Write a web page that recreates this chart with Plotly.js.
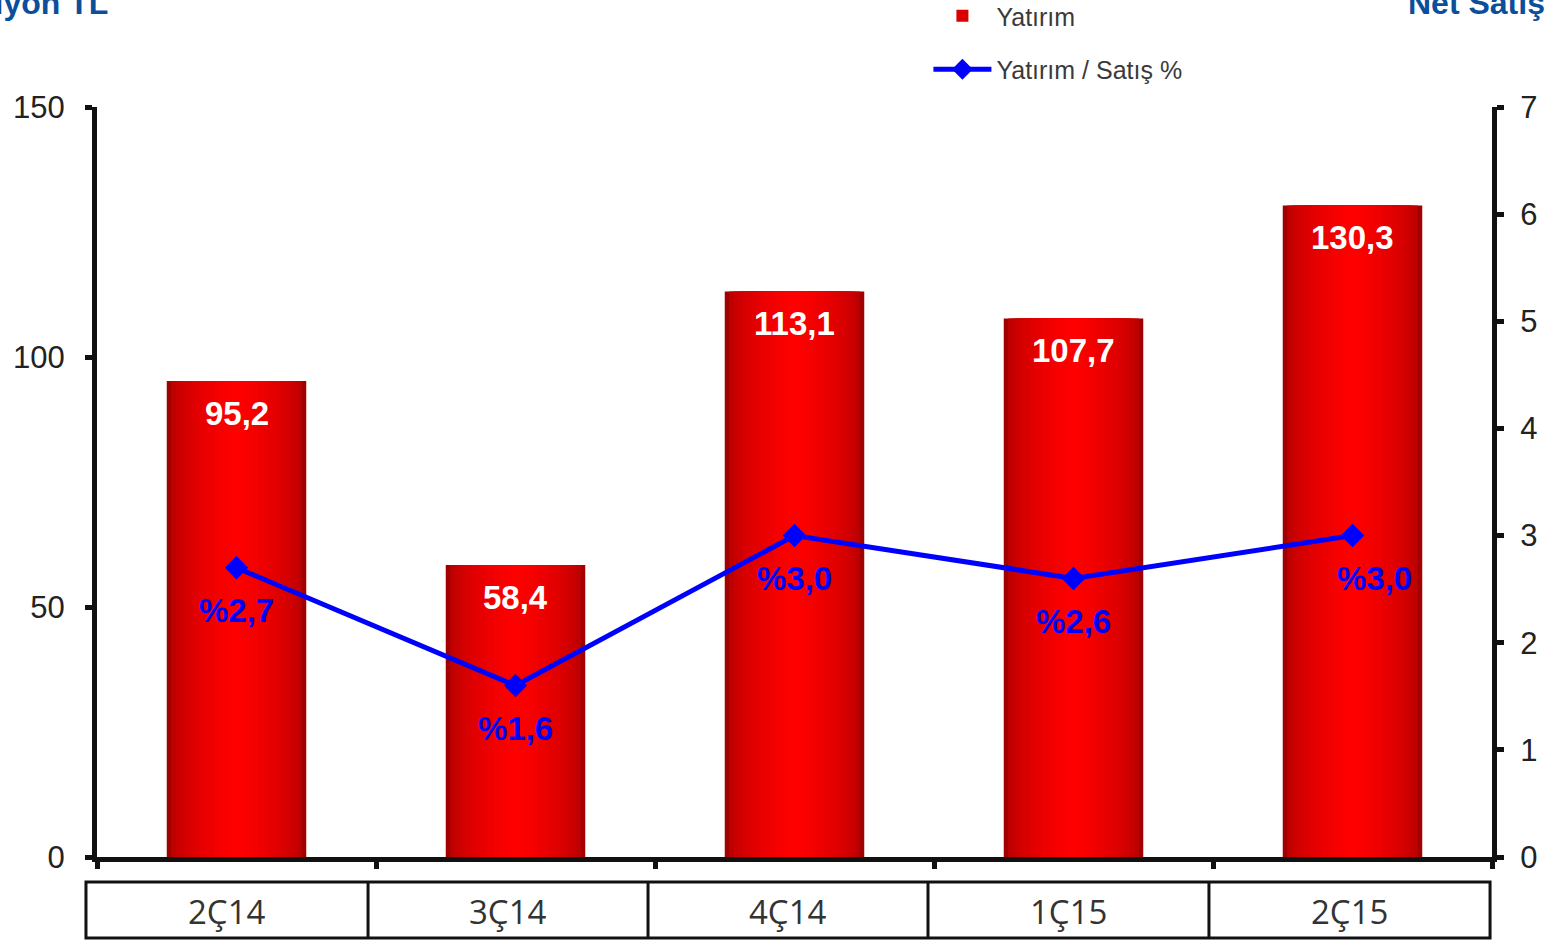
<!DOCTYPE html>
<html>
<head>
<meta charset="utf-8">
<script src="https://cdn.plot.ly/plotly-3.0.1.min.js"></script>
<style>html,body{margin:0;padding:0;background:#fff;}#chart{width:1547px;height:940px;}</style>
</head>
<body>
<div id="chart"></div>
<script>
// ---- data ----
const categories = ["2Ç14", "3Ç14", "4Ç14", "1Ç15", "2Ç15"];
const yatirim = [95.2, 58.4, 113.1, 107.7, 130.3];
const yatirimLabels = ["95,2", "58,4", "113,1", "107,7", "130,3"];
const oran = [2.7, 1.6, 3.0, 2.6, 3.0];
const oranLabels = ["%2,7", "%1,6", "%3,0", "%2,6", "%3,0"];
const leftTicks = [0, 50, 100, 150];
const rightTicks = [0, 1, 2, 3, 4, 5, 6, 7];

// ---- styling ----
const FONT = "Liberation Sans, Arial, sans-serif";
const nLayers = 16;
const traces = [];
for (let k = 0; k < nLayers; k++) {
  const t = k / (nLayers - 1);
  const r = Math.round(162 + 93 * Math.pow(t, 0.45));
  traces.push({
    type: "bar",
    x: categories,
    y: yatirim,
    width: 0.5 * (1 - k / nLayers),
    marker: { color: `rgb(${r},0,0)`, line: { width: 0 } },
    name: "Yatırım",
    legendgroup: "bar",
    showlegend: k === 5,
    hoverinfo: k === 0 ? "x+y" : "skip"
  });
}
traces.push({
  type: "scatter",
  mode: "lines+markers",
  x: categories,
  y: oran,
  yaxis: "y2",
  name: "Yatırım / Satış %",
  legendgroup: "line",
  line: { color: "#0000ff", width: 5 },
  marker: { symbol: "diamond", size: 18, color: "#0000ff" }
});

const annotations = [];
categories.forEach((c, i) => {
  annotations.push({
    x: c, y: yatirim[i], xref: "x", yref: "y",
    text: "<b>" + yatirimLabels[i] + "</b>",
    showarrow: false, yshift: -32,
    font: { family: FONT, size: 33, color: "#ffffff" }
  });
  annotations.push({
    x: c, y: oran[i], xref: "x", yref: "y2",
    text: "<b>" + oranLabels[i] + "</b>",
    showarrow: false, yshift: -43, xshift: i === 4 ? 22 : 0,
    font: { family: FONT, size: 33, color: "#0000ff" }
  });
});
annotations.push({
  xref: "paper", yref: "paper", x: 0.009, y: 1.139, xanchor: "right", yanchor: "middle",
  text: "<b>Milyon TL</b>", showarrow: false,
  font: { family: FONT, size: 32, color: "#0b4f9c" }
});
annotations.push({
  xref: "paper", yref: "paper", x: 0.938, y: 1.139, xanchor: "left", yanchor: "middle",
  text: "<b>Net Satış %</b>", showarrow: false,
  font: { family: FONT, size: 32, color: "#0b4f9c" }
});

// table box under the x axis, category names centred in its cells
const boxTop = -0.0333, boxBot = -0.108;
const dividers = [-0.0079, 0.1943, 0.395, 0.5957, 0.7971, 0.9986];
const shapes = [{
  type: "rect", xref: "paper", yref: "paper",
  x0: dividers[0], x1: dividers[dividers.length - 1], y0: boxBot, y1: boxTop,
  line: { color: "#111", width: 3 }
}];
for (let i = 1; i < dividers.length - 1; i++) {
  shapes.push({ type: "line", xref: "paper", yref: "paper",
    x0: dividers[i], x1: dividers[i], y0: boxBot, y1: boxTop,
    line: { color: "#111", width: 3 } });
}
categories.forEach((c, i) => {
  annotations.push({
    xref: "paper", yref: "paper",
    x: (dividers[i] + dividers[i + 1]) / 2, y: (boxTop + boxBot) / 2 - 0.002,
    xanchor: "center", yanchor: "middle",
    text: c, showarrow: false,
    font: { family: "Open Sans, sans-serif", size: 33, color: "#333" }
  });
});

const layout = {
  width: 1547, height: 940,
  margin: { l: 97, r: 55, t: 107, b: 83, autoexpand: false },
  paper_bgcolor: "#fff", plot_bgcolor: "#fff",
  barmode: "overlay",
  showlegend: true,
  legend: {
    xref: "paper", yref: "paper", x: 0.596, y: 1.152,
    xanchor: "left", yanchor: "top",
    itemwidth: 58,
    font: { family: FONT, size: 25, color: "#3a3a3a" },
    tracegroupgap: 18, bgcolor: "rgba(0,0,0,0)"
  },
  xaxis: {
    type: "category", range: [-0.5, 4.5],
    showline: true, linecolor: "#111", linewidth: 5,
    ticks: "outside", tickson: "boundaries", ticklen: 7, tickwidth: 5, tickcolor: "#111",
    showticklabels: false,
    showgrid: false, zeroline: false, fixedrange: true
  },
  yaxis: {
    range: [0, 150], tickvals: leftTicks,
    showline: true, linecolor: "#111", linewidth: 5,
    ticks: "outside", ticklen: 7, tickwidth: 5, tickcolor: "#111",
    ticklabelstandoff: 14,
    tickfont: { family: FONT, size: 31, color: "#222" },
    showgrid: false, zeroline: false
  },
  yaxis2: {
    range: [0, 7], tickvals: rightTicks, overlaying: "y", side: "right",
    showline: true, linecolor: "#111", linewidth: 5,
    ticks: "outside", ticklen: 7, tickwidth: 5, tickcolor: "#111",
    ticklabelstandoff: 10,
    tickfont: { family: FONT, size: 31, color: "#222" },
    showgrid: false, zeroline: false
  },
  annotations: annotations,
  shapes: shapes
};

Plotly.newPlot("chart", traces, layout, { displayModeBar: false, staticPlot: true });
</script>
</body>
</html>
